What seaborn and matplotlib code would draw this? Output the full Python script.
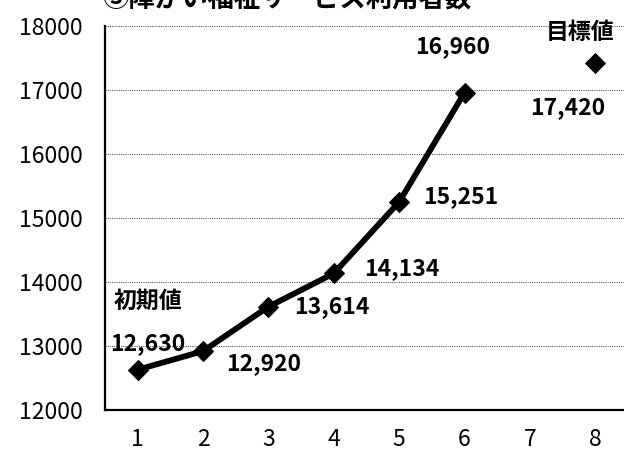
import pandas as pd
import matplotlib.pyplot as plt
import seaborn as sns

# data
steps = [1, 2, 3, 4, 5, 6]
users = [12630, 12920, 13614, 14134, 15251, 16960]
target_step = [8]
target_value = [17420]
x_labels = ["1", "2", "3", "4", "5", "6", "7", "8"]
y_ticks = [12000, 13000, 14000, 15000, 16000, 17000, 18000]
title = "③障がい福祉サービス利用者数"

sns.set_style("white")
plt.rcParams["font.family"] = ["Noto Sans CJK JP", "DejaVu Sans"]
plt.rcParams["text.color"] = "black"
plt.rcParams["xtick.color"] = "black"
plt.rcParams["ytick.color"] = "black"

df = pd.DataFrame({"step": steps, "users": users})
df_target = pd.DataFrame({"step": target_step, "users": target_value})

fig = plt.figure(figsize=(6.24, 4.54), dpi=100)
ax = fig.add_axes([105 / 624, 1 - 410 / 454, 523 / 624, 384 / 454])

sns.lineplot(data=df, x="step", y="users", color="black", linewidth=4.2,
             marker="D", markersize=10, markeredgecolor="black", ax=ax)
sns.scatterplot(data=df_target, x="step", y="users", color="black", marker="D",
                s=100, edgecolor="black", ax=ax)

ax.set_xlim(0.5, 8.5)
ax.set_ylim(12000, 18000)
ax.set_yticks(y_ticks)
ax.set_yticklabels([str(v) for v in y_ticks], fontsize=16.5)
ax.set_xticks(range(1, 9))
ax.set_xticklabels(x_labels, fontsize=16.5)
ax.set_xticks([i + 0.5 for i in range(1, 8)], minor=True)
ax.tick_params(axis="x", which="major", length=0, pad=13)
ax.tick_params(axis="x", which="minor", direction="in", length=7, width=1, color="black")
ax.tick_params(axis="y", which="major", direction="out", length=3, width=1, color="black", pad=13)
ax.set_xlabel("")
ax.set_ylabel("")

ax.grid(axis="y", linestyle=(0, (1, 1)), color="#555555", linewidth=0.8)
ax.set_axisbelow(True)
for side in ["top", "right"]:
    ax.spines[side].set_visible(False)
for side in ["left", "bottom"]:
    ax.spines[side].set_color("black")
    ax.spines[side].set_linewidth(1.6)

# data labels: (x, y, text, pixel offset)
labels = [
    (1, 12630, "12,630", (10, 26)),
    (2, 12920, "12,920", (61, -12)),
    (3, 13614, "13,614", (63, 0)),
    (4, 14134, "14,134", (68, 5)),
    (5, 15251, "15,251", (62, 5)),
    (6, 16960, "16,960", (-12, 46)),
    (8, 17420, "17,420", (-28, -44)),
    (1, 12630, "初期値", (10, 68)),
    (8, 17420, "目標値", (-15, 31)),
]
for x, y, t, (dx, dy) in labels:
    ax.annotate(t, (x, y), xytext=(dx, dy), textcoords="offset pixels",
                ha="center", va="center", fontsize=16.5, fontweight="bold",
                annotation_clip=False)

fig.text(0.46, 1 - 6 / 454, title, ha="center", va="baseline",
         fontsize=19, fontweight="bold")

fig.savefig("out.png", dpi=100)
